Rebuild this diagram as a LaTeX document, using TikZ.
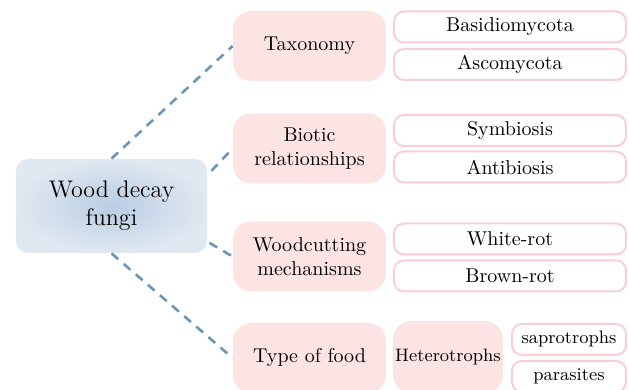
\documentclass[tikz,border=0pt]{standalone}
\usepackage{tikz}
\definecolor{linkblue}{HTML}{6B95BB}
\definecolor{rosefill}{HTML}{FCE3E4}
\definecolor{roseline}{HTML}{F8D0D3}
\definecolor{rootin}{HTML}{B9CDE3}
\definecolor{rootout}{HTML}{E0E8F1}
\begin{document}
\begin{tikzpicture}[x=0.5pt, y=-0.5pt,
root node/.style={rectangle,rounded corners=6pt,inner color=rootin,outer color=rootout,minimum width=95.5pt,minimum height=47pt,align=center,font=\large},
branch node/.style={rectangle,rounded corners=9pt,fill=rosefill,minimum width=76.5pt,minimum height=35pt,align=center},
leaf node/.style={rectangle,rounded corners=5pt,draw=roseline,line width=1pt,fill=white,minimum width=116pt,minimum height=15.5pt,inner sep=1pt},
link/.style={draw=linkblue,line width=1.3pt,dash pattern=on 4.5pt off 3.5pt}]
\useasboundingbox (0,0) rectangle (629,390);
\node[root node] (fungi) at (111.5,206) {Wood decay\\fungi};
\begin{scope}[every node/.style={branch node}]
\node (taxo) at (309.5,46) {Taxonomy};
\node (biotic) at (309.5,148.5) {Biotic\\relationships};
\node (wood) at (309.5,256.5) {Woodcutting\\mechanisms};
\node (food) at (309.5,358) {Type of food};
\node[minimum width=55pt,minimum height=36pt,inner sep=1pt,font=\small] (hetero) at (448,357) {Heterotrophs};
\end{scope}
\begin{scope}[every node/.style={leaf node}]
\node (basidio) at (510,27) {Basidiomycota};
\node (asco) at (510,64.5) {Ascomycota};
\node (symb) at (510,130.5) {Symbiosis};
\node (antib) at (510,167) {Antibiosis};
\node (white) at (510,239) {White-rot};
\node (brown) at (510,276) {Brown-rot};
\node[minimum width=57pt,font=\small] (sapro) at (569,339.5) {saprotrophs};
\node[minimum width=57pt,font=\small] (para) at (569,376.5) {parasites};
\end{scope}
% dashed links from the root
\draw[link] (fungi.north) -- (taxo.west);
\draw[link] ([shift={(4,-4)}]fungi.18) -- (biotic.west);
\draw[link] ([shift={(2,0)}]fungi.-21) -- (wood.west);
\draw[link] (fungi.south) -- (food.west);
\end{tikzpicture}
\end{document}
